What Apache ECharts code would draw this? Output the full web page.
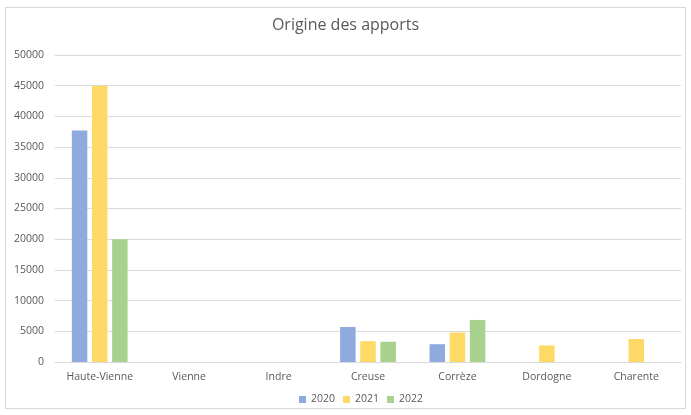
<!DOCTYPE html>
<html>
<head>
<meta charset="utf-8">
<script src="https://cdn.jsdelivr.net/npm/echarts@6/dist/echarts.min.js"></script>
<style>
  html, body { margin: 0; padding: 0; background: #fff; }
  #frame {
    position: absolute; left: 5px; top: 7px; width: 681px; height: 402px;
    border: 1px solid #d9d9d9; box-sizing: border-box;
  }
  #chart { position: absolute; left: 0; top: 0; width: 691px; height: 415px; }
</style>
</head>
<body>
<div id="frame"></div>
<div id="chart"></div>
<script>
const categories = ["Haute-Vienne", "Vienne", "Indre", "Creuse", "Corrèze", "Dordogne", "Charente"];
const years = ["2020", "2021", "2022"];
const values2020 = [37700, null, null, 5700, 2900, null, null];
const values2021 = [45000, null, null, 3400, 4800, 2700, 3750];
const values2022 = [20000, null, null, 3300, 6850, null, null];
const colors = ["#8faadc", "#ffd966", "#a9d18e"];

const chart = echarts.init(document.getElementById("chart"), null, { renderer: "canvas" });

const labelColor = "#595959";
const font = "'Open Sans', 'Liberation Sans', sans-serif";

chart.setOption({
  backgroundColor: "transparent",
  animation: false,
  textStyle: { fontFamily: font },
  title: {
    text: "Origine des apports",
    left: "center",
    top: 12,
    textStyle: { color: labelColor, fontSize: 16, fontWeight: "normal", fontFamily: font }
  },
  legend: {
    data: years,
    bottom: 5,
    left: 294,
    itemWidth: 7,
    itemHeight: 7,
    itemGap: 8,
    icon: "rect",
    textStyle: { color: labelColor, fontSize: 10.5, fontFamily: font }
  },
  grid: { left: 55, right: 10, top: 55, bottom: 53 },
  xAxis: {
    type: "category",
    data: categories,
    axisLine: { lineStyle: { color: "#d9d9d9" } },
    axisTick: { show: false },
    axisLabel: { color: labelColor, fontSize: 10.5, margin: 10, interval: 0 }
  },
  yAxis: {
    type: "value",
    min: 0,
    max: 50000,
    interval: 5000,
    axisLine: { show: false },
    axisTick: { show: false },
    splitLine: { lineStyle: { color: "#d9d9d9" } },
    axisLabel: { color: labelColor, fontSize: 10.5, margin: 11, formatter: (v) => String(v) }
  },
  series: [values2020, values2021, values2022].map((data, i) => ({
    name: years[i],
    type: "bar",
    data,
    barWidth: 15.5,
    barGap: "30%",
    itemStyle: { color: colors[i] }
  }))
});
</script>
</body>
</html>
